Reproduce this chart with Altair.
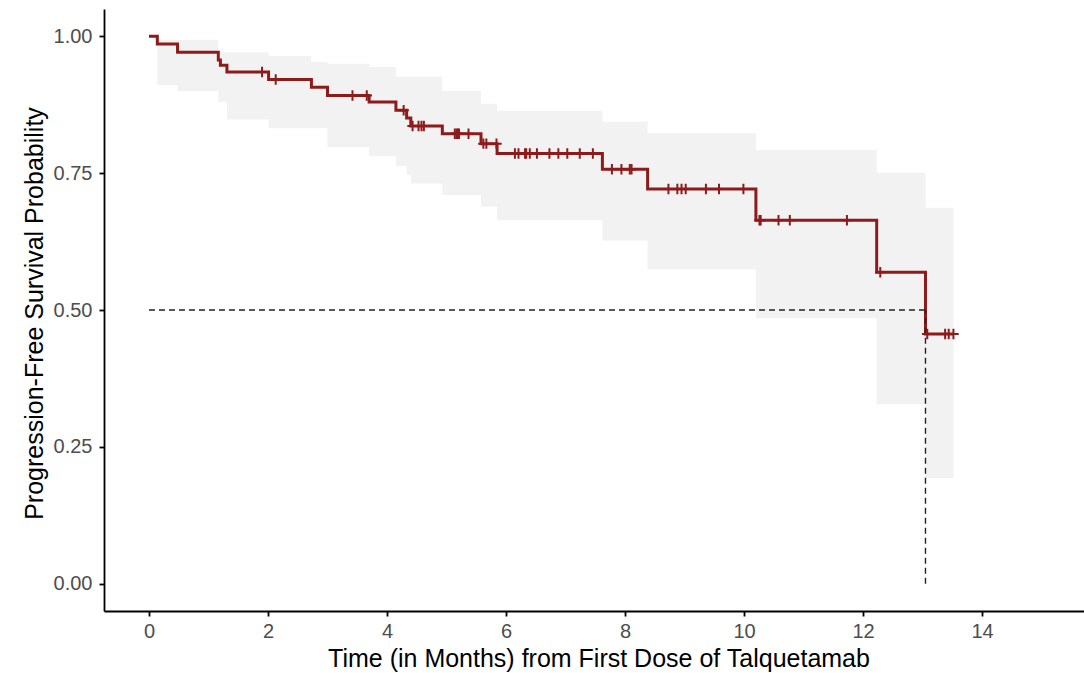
import altair as alt
import pandas as pd

# Kaplan-Meier step curve (start of each step)
step_time = [0.0, 0.14, 0.48, 1.165, 1.20, 1.31, 2.01, 2.73, 3.00, 3.70, 4.15, 4.33, 4.40,
             4.93, 5.58, 5.85, 7.62, 8.38, 10.20, 12.23, 13.05]
surv = [1.0, 0.986, 0.971, 0.957, 0.947, 0.935, 0.921, 0.907, 0.892, 0.880, 0.865, 0.851, 0.836,
        0.822, 0.804, 0.786, 0.757, 0.721, 0.664, 0.569, 0.456]
ci_lower = [1.0, 0.911, 0.900, 0.880, 0.880, 0.848, 0.832, 0.832, 0.798, 0.781, 0.763, 0.747, 0.731,
            0.710, 0.689, 0.664, 0.627, 0.574, 0.485, 0.328, 0.193]
ci_upper = [1.0, 0.994, 0.994, 0.971, 0.971, 0.971, 0.964, 0.953, 0.950, 0.944, 0.926, 0.926, 0.926,
            0.900, 0.877, 0.864, 0.844, 0.823, 0.793, 0.751, 0.687]
end_time = 13.52

# Censoring marks
cens_time = [1.90, 2.13, 3.42, 3.66, 4.28, 4.43, 4.53, 4.58, 4.62, 5.14, 5.17, 5.19, 5.21, 5.37,
             5.62, 5.67, 5.84, 6.15, 6.21, 6.32, 6.34, 6.40, 6.52, 6.73, 6.88, 7.03, 7.24, 7.46,
             7.78, 7.94, 8.08, 8.11, 8.73, 8.88, 8.95, 9.02, 9.36, 9.58, 9.99,
             10.26, 10.28, 10.58, 10.77, 11.73, 12.29, 13.08, 13.38, 13.44, 13.52]
cens_surv = [0.935, 0.921, 0.892, 0.892, 0.865, 0.836, 0.836, 0.836, 0.836, 0.822, 0.822, 0.822, 0.822, 0.822,
             0.804, 0.804, 0.804, 0.786, 0.786, 0.786, 0.786, 0.786, 0.786, 0.786, 0.786, 0.786, 0.786, 0.786,
             0.757, 0.757, 0.757, 0.757, 0.721, 0.721, 0.721, 0.721, 0.721, 0.721, 0.721,
             0.664, 0.664, 0.664, 0.664, 0.664, 0.569, 0.456, 0.456, 0.456, 0.456]

median_time = 13.05
x_ticks = [0, 2, 4, 6, 8, 10, 12, 14]
y_ticks = [0.0, 0.25, 0.5, 0.75, 1.0]

RED = "#8E1B1B"

curve = pd.DataFrame({
    "t": step_time + [end_time],
    "s": surv + [surv[-1]],
    "lo": ci_lower + [ci_lower[-1]],
    "hi": ci_upper + [ci_upper[-1]],
})
cens = pd.DataFrame({"t": cens_time, "s": cens_surv})
dash = pd.DataFrame({
    "x": [0.0, median_time],
    "x2": [median_time, median_time],
    "y": [0.5, 0.0],
    "y2": [0.5, 0.5],
})

xscale = alt.Scale(domain=[-0.756, 15.714], nice=False, zero=False)
yscale = alt.Scale(domain=[-0.05, 1.05], nice=False, zero=False)

x_axis = alt.Axis(values=x_ticks, format="d", title="Time (in Months) from First Dose of Talquetamab",
                  titleX=494.5, titleY=55, titleBaseline="alphabetic", titleAlign="center",
                  labelPadding=5)
y_axis = alt.Axis(values=y_ticks, format=".2f", title="Progression-Free Survival Probability",
                  titleAngle=-90, titleX=-62, titleY=304, titleAlign="center",
                  titleBaseline="alphabetic", labelPadding=7)

band = alt.Chart(curve).mark_area(interpolate="step-after", color="#F2F2F2", opacity=1).encode(
    x=alt.X("t:Q", scale=xscale, axis=x_axis),
    y=alt.Y("lo:Q", scale=yscale, axis=y_axis),
    y2="hi:Q",
)

line = alt.Chart(curve).mark_line(interpolate="step-after", color=RED, strokeWidth=3.0).encode(
    x=alt.X("t:Q", scale=xscale),
    y=alt.Y("s:Q", scale=yscale),
)

marks = alt.Chart(cens).mark_point(shape="M0,-1L0,1M-1,0L1,0", filled=False, color=RED,
                                   strokeWidth=2.0, size=110, opacity=1).encode(
    x=alt.X("t:Q", scale=xscale),
    y=alt.Y("s:Q", scale=yscale),
)

rules = alt.Chart(dash).mark_rule(color="#222222", strokeWidth=1.4, strokeDash=[6, 4]).encode(
    x=alt.X("x:Q", scale=xscale),
    x2="x2:Q",
    y=alt.Y("y:Q", scale=yscale),
    y2="y2:Q",
)

chart = alt.layer(band, line, rules, marks).properties(
    width=980,
    height=602,
    autosize=alt.AutoSizeParams(type="none"),
    padding={"left": 104, "top": 9, "right": 0, "bottom": 62},
    background="white",
).configure_view(stroke=None).configure_axis(
    grid=False,
    domainColor="black",
    domainWidth=1.8,
    tickColor="black",
    tickWidth=1.8,
    tickSize=5,
    labelColor="#4D4D4D",
    labelFont="Liberation Sans",
    labelFontSize=20,
    titleFont="Liberation Sans",
    titleFontSize=25,
    titleFontWeight="normal",
    titleColor="black",
)

chart.save("out.html", embed_options={"renderer": "svg", "actions": False})
